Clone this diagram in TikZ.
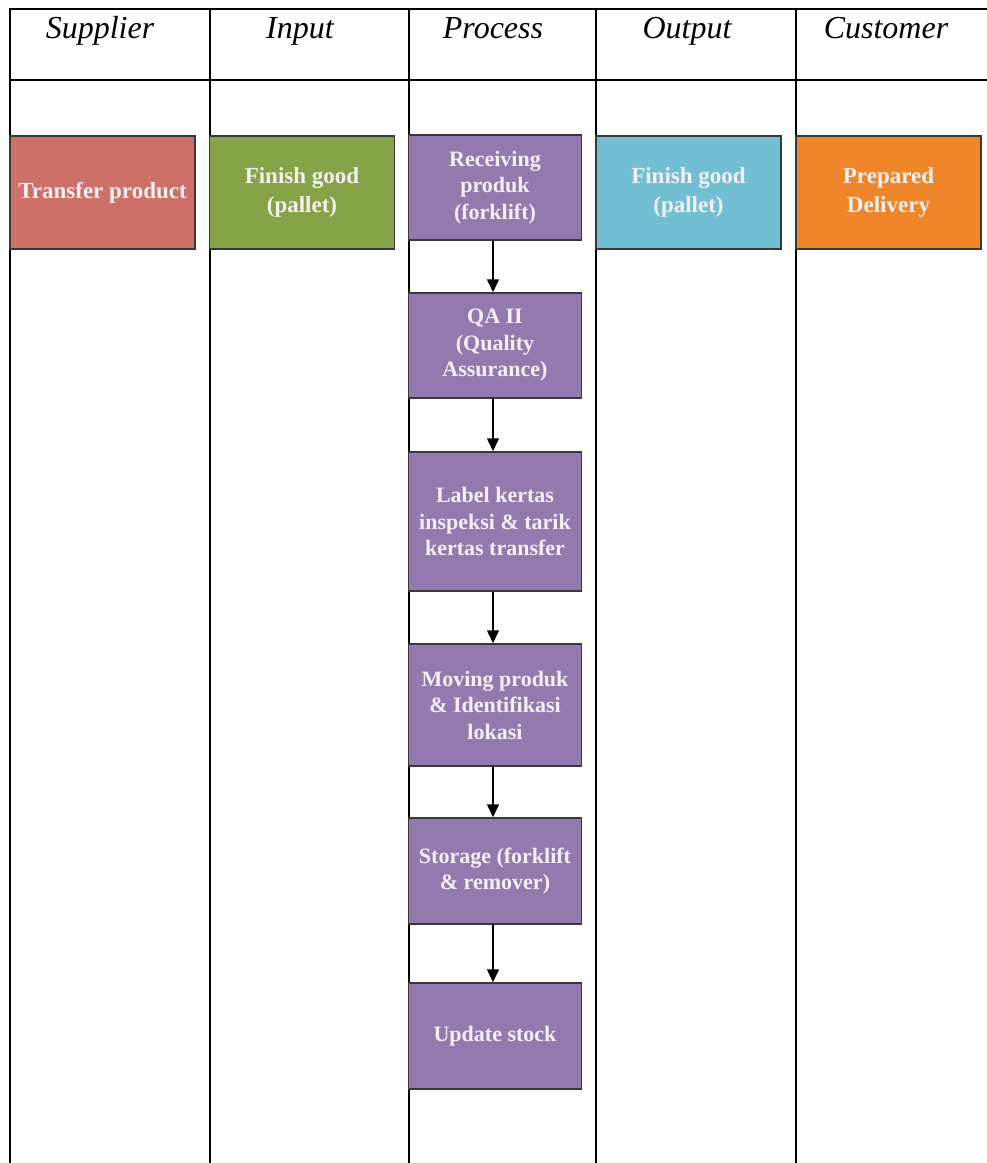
\documentclass[tikz,border=0pt]{standalone}
\usepackage{fontspec}
\setmainfont{Liberation Serif}
\usetikzlibrary{arrows.meta}
\definecolor{cred}{RGB}{205,112,104}
\definecolor{cgreen}{RGB}{134,164,71}
\definecolor{cpurple}{RGB}{146,122,174}
\definecolor{cblue}{RGB}{114,190,211}
\definecolor{corange}{RGB}{240,134,42}
\definecolor{txt}{RGB}{244,240,244}
\definecolor{edge}{RGB}{55,55,60}
\begin{document}
\begin{tikzpicture}[x=1pt,y=-1pt,
  grid/.style={line width=2pt,black},
  box/.style={draw=edge,line width=1.5pt,inner sep=0pt,text=txt,align=center,
    font=\fontsize{23}{29}\selectfont\bfseries,minimum width=185pt,minimum height=113pt},
  pbox/.style={draw=edge,line width=1.5pt,inner sep=0pt,text=txt,align=center,
    font=\fontsize{22}{26.5}\selectfont\bfseries,fill=cpurple,minimum width=173pt},
  flow/.style={line width=1.5pt,black,-{Triangle[width=12pt,length=13pt]}},
  head/.style={font=\fontsize{32}{36}\selectfont\itshape,anchor=base}]
\useasboundingbox[fill=white] (0,0) rectangle (987,1163);
% table grid
\draw[grid] (9,9) -- (987,9);
\draw[grid] (9,80) -- (987,80);
\foreach \x in {10,210,409,596,796} \draw[grid] (\x,9) -- (\x,1163);
% headers
\node[head] (h1) at (100,38) {Supplier};
\node[head] (h2) at (300,38) {Input};
\node[head] (h3) at (493,38) {Process};
\node[head] (h4) at (687,38) {Output};
\node[head] (h5) at (886,38) {Customer};
% top row boxes
\node[box,fill=cred] (sup) at (102.5,192.5) {Transfer product};
\node[box,fill=cgreen] (inp) at (302,192.5) {Finish good\\(pallet)};
\node[box,fill=cblue] (out) at (688.5,192.5) {Finish good\\(pallet)};
\node[box,fill=corange] (cus) at (888.5,192.5) {Prepared\\Delivery};
% process boxes
\node[pbox,minimum height=105pt] (p1) at (495,187.5) {Receiving\\produk\\(forklift)};
\node[pbox,minimum height=105pt] (p2) at (495,345.5) {QA II\\(Quality\\Assurance)};
\node[pbox,minimum height=139pt] (p3) at (495,521.5) {Label kertas\\inspeksi \& tarik\\kertas transfer};
\node[pbox,minimum height=122pt] (p4) at (495,705) {Moving produk\\\& Identifikasi\\lokasi};
\node[pbox,minimum height=106pt] (p5) at (495,871) {Storage (forklift\\\& remover)};
\node[pbox,minimum height=106pt] (p6) at (495,1036) {Update stock};
% arrows
\draw[flow] ([xshift=-2pt]p1.south) -- ([xshift=-2pt]p2.north);
\draw[flow] ([xshift=-2pt]p2.south) -- ([xshift=-2pt]p3.north);
\draw[flow] ([xshift=-2pt]p3.south) -- ([xshift=-2pt]p4.north);
\draw[flow] ([xshift=-2pt]p4.south) -- ([xshift=-2pt]p5.north);
\draw[flow] ([xshift=-2pt]p5.south) -- ([xshift=-2pt]p6.north);
\end{tikzpicture}
\end{document}
